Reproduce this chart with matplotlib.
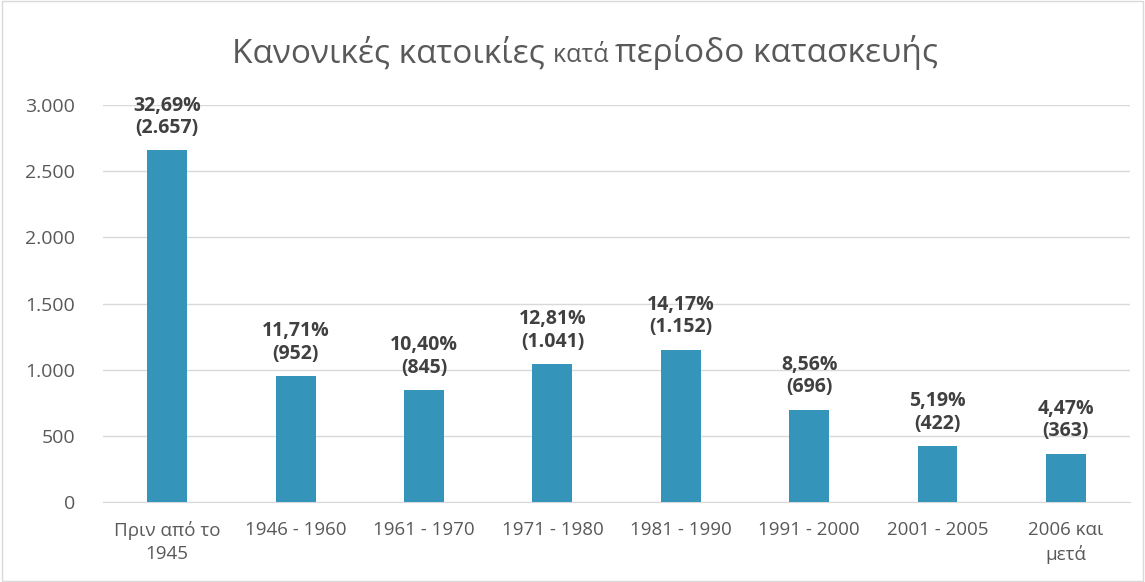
import matplotlib
matplotlib.use("Agg")
import matplotlib.pyplot as plt
from matplotlib.patches import Rectangle

categories = ["Πριν από το\n1945", "1946 - 1960", "1961 - 1970", "1971 - 1980",
              "1981 - 1990", "1991 - 2000", "2001 - 2005", "2006 και\nμετά"]
values = [2657, 952, 845, 1041, 1152, 696, 422, 363]
percents = ["32,69%", "11,71%", "10,40%", "12,81%", "14,17%", "8,56%", "5,19%", "4,47%"]
value_labels = ["2.657", "952", "845", "1.041", "1.152", "696", "422", "363"]
yticks = [0, 500, 1000, 1500, 2000, 2500, 3000]
ytick_labels = ["0", "500", "1.000", "1.500", "2.000", "2.500", "3.000"]

FONT = "Open Sans"
plt.rcParams['font.family'] = [FONT, 'DejaVu Sans']

fig = plt.figure(figsize=(11.45, 5.82), dpi=100)
fig.patch.set_facecolor("white")
fig.add_artist(Rectangle((0.002, 0.002), 0.996, 0.996, transform=fig.transFigure,
                         fill=False, edgecolor="#d9d9d9", linewidth=1))

ax = fig.add_axes([0.09, 0.1375, 0.897, 0.682])
x = list(range(len(categories)))
ax.bar(x, values, width=0.31, color="#3494BA", zorder=3)
ax.set_ylim(0, 3000)
ax.set_xlim(-0.5, len(categories) - 0.5)
ax.set_yticks(yticks)
ax.set_yticklabels(ytick_labels, fontsize=14, color="#595959")
ax.set_xticks(x)
ax.set_xticklabels(categories, fontsize=13.5, color="#595959", linespacing=1.35)
ax.tick_params(length=0)
ax.tick_params(axis='y', pad=20)
ax.tick_params(axis='x', pad=14)
ax.grid(axis='y', color="#d9d9d9", linewidth=1, zorder=0)
for s in ["top", "right", "left"]:
    ax.spines[s].set_visible(False)
ax.spines["bottom"].set_color("#d9d9d9")

for xi, v, p, vl in zip(x, values, percents, value_labels):
    ax.annotate(f"{p}\n({vl})", (xi, v), xytext=(0, 9), textcoords="offset points",
                ha="center", va="bottom", fontsize=14, fontweight="bold",
                color="#404040", linespacing=1.15)

# Title with smaller "κατά"
parts = [("Κανονικές κατοικίες ", 24), ("κατά ", 18), ("περίοδο κατασκευής", 24)]
fig.canvas.draw()
renderer = fig.canvas.get_renderer()
texts = []
widths = []
for s, fs in parts:
    t = fig.text(0, 0.893, s, fontsize=fs, color="#595959", va="baseline", ha="left")
    bb = t.get_window_extent(renderer)
    texts.append(t)
    widths.append(bb.width)
total = sum(widths)
start = (fig.bbox.width * 0.511 - total / 2)
for t, w in zip(texts, widths):
    t.set_x(start / fig.bbox.width)
    start += w

fig.savefig("out.png", dpi=100)
